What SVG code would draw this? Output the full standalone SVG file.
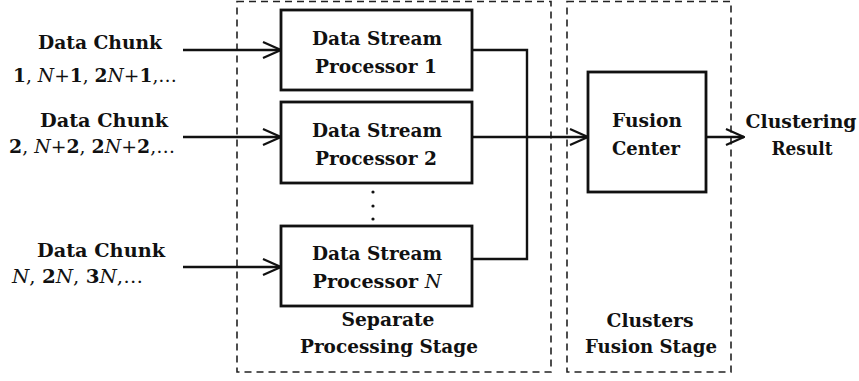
<svg xmlns="http://www.w3.org/2000/svg" width="859" height="381" viewBox="0 0 859 381">
<style>
text{font-family:'DejaVu Serif','Liberation Serif',serif;font-size:19px;font-weight:bold;fill:#111;}
.c{text-anchor:middle;}
.i{font-style:italic;font-weight:normal;}
.n{font-weight:normal;}
.box{fill:#fff;stroke:#111;stroke-width:2.8;}
.stage{fill:none;stroke:#222;stroke-width:1.6;stroke-dasharray:7 5;}
.wire{fill:none;stroke:#111;stroke-width:2.4;}
</style>
<defs>
<marker id="ah" viewBox="0 0 20 20" refX="19" refY="10" markerWidth="20" markerHeight="20" markerUnits="userSpaceOnUse" orient="auto">
<path d="M1,2 L19,10 L1,18" fill="none" stroke="#111" stroke-width="2.2"/>
</marker>
</defs>
<g id="stage-separate">
<rect class="stage" x="237" y="1.5" width="314" height="370.5"/>
<text class="c" x="388" y="326" textLength="93" lengthAdjust="spacingAndGlyphs">Separate</text>
<text class="c" x="389" y="353" textLength="178" lengthAdjust="spacingAndGlyphs">Processing Stage</text>
</g>
<g id="stage-fusion">
<rect class="stage" x="567" y="1.5" width="164" height="370.5"/>
<text class="c" x="650" y="327" textLength="87" lengthAdjust="spacingAndGlyphs">Clusters</text>
<text class="c" x="651" y="353" textLength="132" lengthAdjust="spacingAndGlyphs">Fusion Stage</text>
</g>
<g id="connectors">
<path class="wire" d="M183,50 H281" marker-end="url(#ah)"/>
<path class="wire" d="M183,137 H281" marker-end="url(#ah)"/>
<path class="wire" d="M183,267 H281" marker-end="url(#ah)"/>
<path class="wire" d="M472,50 H527 V259 H472"/>
<path class="wire" d="M472,137 H588" marker-end="url(#ah)"/>
<path class="wire" d="M706,137 H744" marker-end="url(#ah)"/>
</g>
<g id="input-1">
<text class="c" x="100" y="49" textLength="124" lengthAdjust="spacingAndGlyphs">Data Chunk</text>
<text x="13" y="82" textLength="164" lengthAdjust="spacingAndGlyphs">1<tspan class="n">, </tspan><tspan class="i">N</tspan><tspan class="n">+</tspan>1<tspan class="n">, </tspan>2<tspan class="i">N</tspan><tspan class="n">+</tspan>1<tspan class="n">,…</tspan></text>
</g>
<g id="input-2">
<text class="c" x="104" y="127" textLength="128" lengthAdjust="spacingAndGlyphs">Data Chunk</text>
<text x="9" y="153" textLength="166" lengthAdjust="spacingAndGlyphs">2<tspan class="n">, </tspan><tspan class="i">N</tspan><tspan class="n">+</tspan>2<tspan class="n">, </tspan>2<tspan class="i">N</tspan><tspan class="n">+</tspan>2<tspan class="n">,…</tspan></text>
</g>
<g id="input-n">
<text class="c" x="101" y="257" textLength="128" lengthAdjust="spacingAndGlyphs">Data Chunk</text>
<text x="12" y="283" textLength="131" lengthAdjust="spacingAndGlyphs"><tspan class="i">N</tspan><tspan class="n">, </tspan>2<tspan class="i">N</tspan><tspan class="n">, </tspan>3<tspan class="i">N</tspan><tspan class="n">,…</tspan></text>
</g>
<g id="processor-1">
<rect class="box" x="281" y="10" width="191" height="80"/>
<text class="c" x="377" y="45" textLength="130" lengthAdjust="spacingAndGlyphs">Data Stream</text>
<text class="c" x="376" y="73" textLength="122" lengthAdjust="spacingAndGlyphs">Processor 1</text>
</g>
<g id="processor-2">
<rect class="box" x="281" y="102" width="191" height="81"/>
<text class="c" x="377" y="137" textLength="130" lengthAdjust="spacingAndGlyphs">Data Stream</text>
<text class="c" x="376" y="165" textLength="122" lengthAdjust="spacingAndGlyphs">Processor 2</text>
</g>
<g id="ellipsis">
<circle cx="373" cy="192" r="1.6" fill="#111"/>
<circle cx="373" cy="206" r="1.6" fill="#111"/>
<circle cx="373" cy="219" r="1.6" fill="#111"/>
</g>
<g id="processor-n">
<rect class="box" x="281" y="226" width="191" height="80"/>
<text class="c" x="377" y="260" textLength="130" lengthAdjust="spacingAndGlyphs">Data Stream</text>
<text class="c" x="377" y="288" textLength="129" lengthAdjust="spacingAndGlyphs">Processor <tspan class="i">N</tspan></text>
</g>
<g id="fusion-center">
<rect class="box" x="588" y="72" width="118" height="120"/>
<text class="c" x="647" y="127" textLength="70" lengthAdjust="spacingAndGlyphs">Fusion</text>
<text class="c" x="646" y="155" textLength="68" lengthAdjust="spacingAndGlyphs">Center</text>
</g>
<g id="result">
<text class="c" x="801" y="128" textLength="111" lengthAdjust="spacingAndGlyphs">Clustering</text>
<text class="c" x="802" y="155" textLength="61" lengthAdjust="spacingAndGlyphs">Result</text>
</g>
</svg>
